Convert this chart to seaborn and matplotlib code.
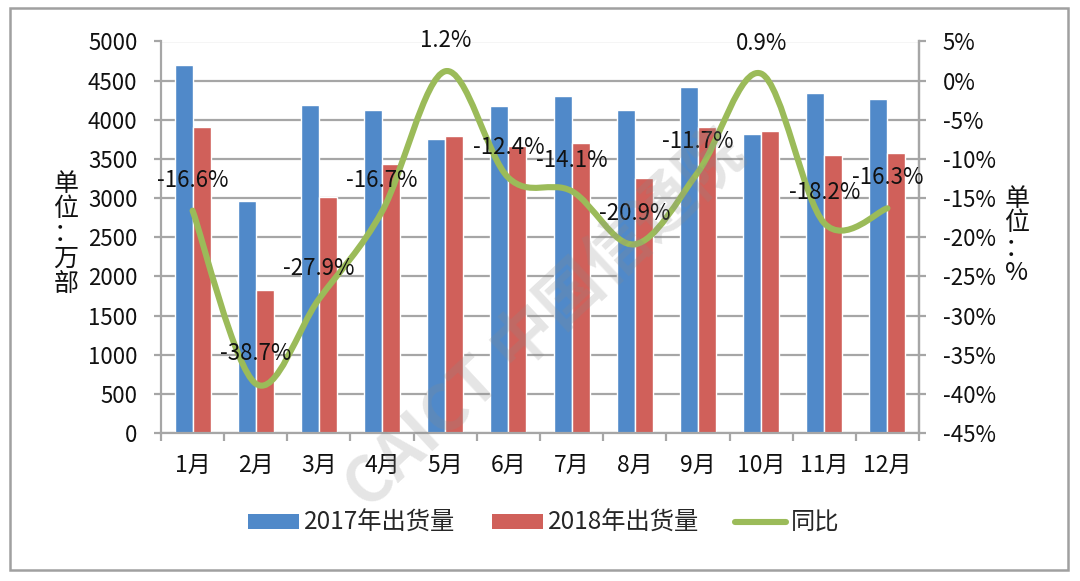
import numpy as np
import pandas as pd
import matplotlib
matplotlib.use("Agg")
import matplotlib.pyplot as plt
import seaborn as sns
from matplotlib.path import Path
from matplotlib.patches import PathPatch, Rectangle, Patch
from matplotlib.lines import Line2D
from matplotlib.ticker import MultipleLocator, FuncFormatter, FixedLocator

months = ["1月", "2月", "3月", "4月", "5月", "6月", "7月", "8月", "9月", "10月", "11月", "12月"]
ship_2017 = [4700, 2960, 4190, 4120, 3750, 4180, 4310, 4130, 4420, 3820, 4340, 4270]
ship_2018 = [3910, 1820, 3020, 3430, 3790, 3660, 3700, 3260, 3905, 3860, 3550, 3575]
yoy = [-16.6, -38.7, -27.9, -16.7, 1.2, -12.4, -14.1, -20.9, -11.7, 0.9, -18.2, -16.3]
series_names = ["2017年出货量", "2018年出货量", "同比"]

sns.set_theme(style="white")
plt.rcParams["font.family"] = ["Noto Sans CJK SC", "DejaVu Sans"]

BLUE = "#5089C9"
RED = "#D0605A"
GREEN = "#9BBB59"
GRID = "#A6A6A6"
TXT = "#111111"

df = pd.DataFrame({
    "month": months * 2,
    "value": ship_2017 + ship_2018,
    "series": [series_names[0]] * 12 + [series_names[1]] * 12,
})

fig = plt.figure(figsize=(10.8, 5.81), dpi=100)
ax = fig.add_axes([161 / 1080, 1 - 433 / 581, (919 - 161) / 1080, (433 - 41.5) / 581])

sns.barplot(data=df, x="month", y="value", hue="series", order=months,
            hue_order=series_names[:2], palette=[BLUE, RED], saturation=1,
            width=0.57, ax=ax, legend=False, errorbar=None)

ax.set_ylim(0, 5000)
ax.set_xlim(-0.5, 11.5)
ax.yaxis.set_major_locator(MultipleLocator(500))
ax.grid(axis="y", color=GRID, lw=1.6)
ax.set_axisbelow(True)
ax.set_xlabel("")
ax.set_ylabel("")
ax.spines["top"].set_visible(False)
for s in ["left", "right", "bottom"]:
    ax.spines[s].set_color(GRID)
    ax.spines[s].set_linewidth(1.6)
ax.tick_params(axis="y", which="major", length=5, width=1.6, color=GRID, pad=12,
               labelsize=16, labelcolor=TXT, left=True)
ax.tick_params(axis="x", which="major", length=0, pad=15, labelsize=16.5, labelcolor=TXT)
ax.xaxis.set_minor_locator(FixedLocator(np.arange(-0.5, 12, 1)))
ax.tick_params(axis="x", which="minor", length=6, width=1.6, color=GRID, bottom=True)

ax2 = ax.twinx()
ax2.set_ylim(-45, 5)
ax2.yaxis.set_major_locator(MultipleLocator(5))
ax2.yaxis.set_major_formatter(FuncFormatter(lambda v, p: f"{v:.0f}%"))
for s in ["top", "left", "bottom"]:
    ax2.spines[s].set_visible(False)
ax2.spines["right"].set_color(GRID)
ax2.spines["right"].set_linewidth(1.6)
ax2.tick_params(axis="y", length=5, width=1.6, color=GRID, pad=12, labelsize=16,
                labelcolor=TXT, right=True)
ax2.grid(False)

# smoothed line (Catmull-Rom -> cubic Bezier through data points)
xs = np.arange(len(yoy), dtype=float)
ys = np.array(yoy, dtype=float)
pts = np.column_stack([xs, ys])
ext = np.vstack([pts[0], pts, pts[-1]])
verts = [tuple(pts[0])]
codes = [Path.MOVETO]
for i in range(len(pts) - 1):
    p0, p1, p2, p3 = ext[i], ext[i + 1], ext[i + 2], ext[i + 3]
    c1 = p1 + (p2 - p0) / 6.0
    c2 = p2 - (p3 - p1) / 6.0
    verts += [tuple(c1), tuple(c2), tuple(p2)]
    codes += [Path.CURVE4] * 3
ax2.add_patch(PathPatch(Path(verts, codes), fill=False, edgecolor=GREEN, lw=4.4,
                        capstyle="round", joinstyle="round", zorder=3))

for x, v in zip(xs, yoy):
    ax2.annotate(f"{v:.1f}%", (x, v), xytext=(0, 22), textcoords="offset points",
                 ha="center", va="center", fontsize=16, color=TXT, zorder=4)

# axis unit labels
fig.text(66 / 1080, 1 - 234 / 581, "单\n位\n：\n万\n部", ha="center", va="center",
         fontsize=18, linespacing=0.95, color=TXT)
fig.text(1017 / 1080, 1 - 236 / 581, "单\n位\n：\n%", ha="center", va="center",
         fontsize=18, linespacing=0.95, color=TXT)

handles = [Patch(facecolor=BLUE, edgecolor="none"), Patch(facecolor=RED, edgecolor="none"),
           Line2D([0], [0], color=GREEN, lw=4.4)]
fig.legend(handles, series_names, loc="center", bbox_to_anchor=(544 / 1080, 1 - 523 / 581),
           ncol=3, frameon=False, fontsize=17.5, handlelength=2.1, handleheight=0.6,
           handletextpad=0.2, columnspacing=1.5)

# watermark
fig.text(545 / 1080, 1 - 320 / 581, "CAICT 中国信通院", rotation=43, ha="center", va="center",
         fontsize=46, fontweight="bold", color="#8a8a8a", alpha=0.22, zorder=10)

# outer border
fig.patches.append(Rectangle((10 / 1080, 1 - 570 / 581), (1068 - 10) / 1080, (570 - 8) / 581,
                             transform=fig.transFigure, fill=False, edgecolor="#A0A0A0", lw=1.8))

fig.savefig("out.png", dpi=100)
